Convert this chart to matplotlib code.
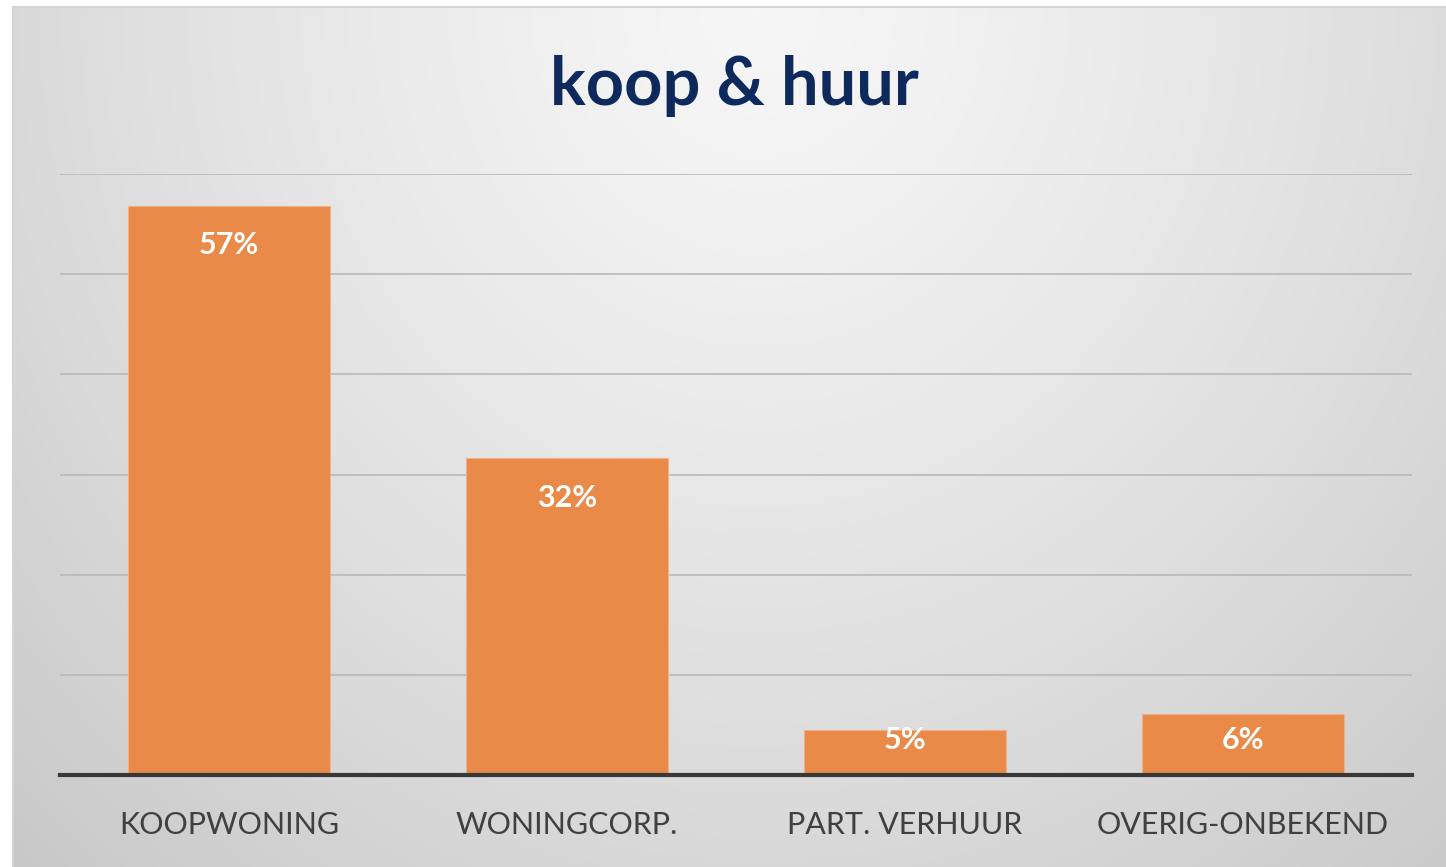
import matplotlib
matplotlib.use('Agg')
import matplotlib.pyplot as plt
import numpy as np

# data
categories = ['KOOPWONING', 'WONINGCORP.', 'PART. VERHUUR', 'OVERIG-ONBEKEND']
heights = [56.8, 31.6, 4.5, 6.1]
labels = ['57%', '32%', '5%', '6%']

W, H = 1446, 867
fig = plt.figure(figsize=(W / 100, H / 100), dpi=100)
fig.patch.set_facecolor('white')

# radial gray background panel
bg = fig.add_axes([13 / W, 0, 1 - 13 / W, 1 - 7 / H])
ny, nx = 400, 700
yy, xx = np.mgrid[0:ny, 0:nx]
dx = (xx - nx * 0.52) / nx
dy = (yy - 0) / ny * 0.55
r = np.sqrt(dx ** 2 + dy ** 2)
val = 0.965 - 0.26 * np.clip(r, 0, 1) ** 1.3
img = np.dstack([val, val, val])
bg.imshow(img, aspect='auto', extent=[0, 1, 0, 1], origin='upper')
bg.set_axis_off()
fig.add_artist(plt.Line2D([13 / W, 13 / W, 1], [0, 1 - 7 / H, 1 - 7 / H], transform=fig.transFigure,
                          color='#d4d4d4', lw=1.5))

ax = fig.add_axes([60 / W, 1 - 775 / H, 1352 / W, 601 / H])
ax.set_facecolor('none')
x = np.arange(len(categories))
ax.bar(x, heights, width=0.6, color='#E98A48', edgecolor='#f2b088', linewidth=0.8, zorder=3)
ax.set_xlim(-0.5, 3.5)
ax.set_ylim(0, 60)
ax.set_yticks([10, 20, 30, 40, 50, 60])
ax.yaxis.grid(True, color='#b8b8b8', linewidth=1.2, zorder=0)
ax.set_axisbelow(True)
ax.tick_params(axis='y', left=False, labelleft=False)
ax.tick_params(axis='x', length=0, pad=26)
ax.set_xticks(x)
ax.set_xticklabels(categories, fontsize=22, color='#404040', family='Lato')
for s in ['top', 'right', 'left']:
    ax.spines[s].set_visible(False)
ax.spines['bottom'].set_color('#383838')
ax.spines['bottom'].set_linewidth(3)
ax.spines['bottom'].set_zorder(4)

for i, (h, lab) in enumerate(zip(heights, labels)):
    ax.text(i, max(h - 3.9, 3.5), lab, ha='center', va='center', color='white',
            fontsize=22, fontweight='bold', family='Lato', zorder=5)

fig.text(0.508, 1 - 86 / H, 'koop & huur', ha='center', va='center', fontsize=48,
         fontweight='bold', color='#0e2a5c', family='Lato')

fig.savefig('out.png', dpi=100)
